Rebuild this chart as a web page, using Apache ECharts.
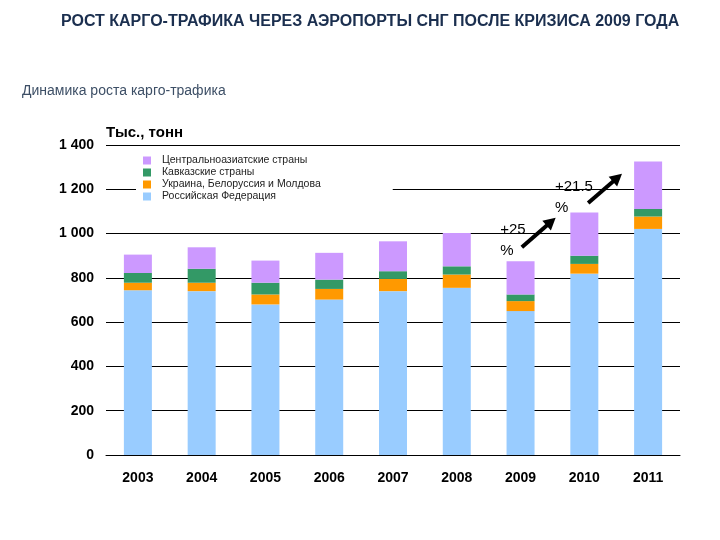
<!DOCTYPE html>
<html><head><meta charset="utf-8">
<script src="https://cdn.jsdelivr.net/npm/echarts@6/dist/echarts.min.js"></script>
<style>html,body{margin:0;padding:0;background:#fff}#c{width:720px;height:540px}</style>
</head><body><div id="c"></div>
<script>
const categories = ['2003','2004','2005','2006','2007','2008','2009','2010','2011'];
const seriesNames = ['Центральноазиатские страны','Кавказские страны','Украина, Белоруссия и Молдова','Российская Федерация'];
const russia = [744,740,680,702,740,755,650,819,1021];
const ukraine = [34,38,45,48,55,60,45,44,56];
const caucasus = [44,63,53,42,35,37,30,37,34];
const centralAsia = [83,97,100,121,135,151,150,195,214];
const yTicks = [0,200,400,600,800,1000,1200,1400];
// annotations anchored in data space: [categoryIndex, value]
const growthLabels = ['+25\n%', '+21.5\n%'];
const growthLabelAnchors = [[5.68,1062],[6.54,1258]];
const growthArrows = [[[6.02,938],[6.55,1072]],[[7.06,1138],[7.59,1270]]];

const chart = echarts.init(document.getElementById('c'));
const FONT = 'Liberation Sans';
const colors = {ca:'#cc99ff', cau:'#339966', ukr:'#ff9900', ru:'#99ccff'};
function bar(name, data, color){
  return {name, type:'bar', stack:'t', data, barWidth:28, itemStyle:{color}};
}
chart.setOption({
  animation:false,
  textStyle:{fontFamily:FONT},
  title:[
    {text:'РОСТ КАРГО-ТРАФИКА ЧЕРЕЗ АЭРОПОРТЫ СНГ ПОСЛЕ КРИЗИСА 2009 ГОДА', left:56, top:9,
     textStyle:{fontSize:16, fontWeight:'bold', color:'#1b2f4f', fontFamily:FONT}},
    {text:'Динамика роста карго-трафика', left:17, top:79,
     textStyle:{fontSize:14, fontWeight:'normal', color:'#3d4f66', fontFamily:FONT}},
    {text:'Тыс., тонн', left:101, top:120,
     textStyle:{fontSize:15, fontWeight:'bold', color:'#000', fontFamily:FONT}}
  ],
  legend:{
    data:seriesNames, orient:'vertical', left:136, top:153,
    itemWidth:8, itemHeight:8, itemGap:1, icon:'rect',
    backgroundColor:'#fff', padding:[2,72,6,7], z:10,
    textStyle:{fontSize:10.5, color:'#222', lineHeight:9, height:9, padding:[0,0,0,6], fontFamily:FONT}
  },
  grid:{left:106, right:40, top:145, bottom:85},
  xAxis:{type:'category', data:categories,
    axisLine:{lineStyle:{color:'#000', width:1}}, axisTick:{show:false},
    axisLabel:{fontSize:14, fontWeight:'bold', color:'#000', margin:16, fontFamily:FONT}},
  yAxis:{type:'value', min:0, max:1400, interval:200,
    axisLine:{show:false}, axisTick:{show:false},
    splitLine:{lineStyle:{color:'#000', width:1}},
    axisLabel:{fontSize:14, fontWeight:'bold', color:'#000', margin:12, fontFamily:FONT,
      formatter:v=>yTicks.indexOf(v)>=0 ? String(v).replace(/\B(?=(\d{3})+(?!\d))/g,' ') : ''}},
  series:[
    bar(seriesNames[3], russia, colors.ru),
    bar(seriesNames[2], ukraine, colors.ukr),
    bar(seriesNames[1], caucasus, colors.cau),
    bar(seriesNames[0], centralAsia, colors.ca)
  ]
});

function px(p){
  const x0 = chart.convertToPixel({xAxisIndex:0}, 0);
  const x1 = chart.convertToPixel({xAxisIndex:0}, 1);
  const y = chart.convertToPixel({yAxisIndex:0}, p[1]);
  return [x0 + (x1-x0)*p[0], y];
}
const g = [];
growthLabels.forEach((t,i)=>{
  const p = px(growthLabelAnchors[i]);
  g.push({type:'text', x:p[0], y:p[1], z:20,
    style:{text:t, fontSize:15, lineHeight:21, fill:'#000', fontFamily:FONT}});
});
growthArrows.forEach(a=>{
  const s = px(a[0]), e = px(a[1]);
  const dx = e[0]-s[0], dy = e[1]-s[1], L = Math.hypot(dx,dy);
  const ux = dx/L, uy = dy/L, hl = 12, hw = 6.5;
  const bx = e[0]-ux*hl, by = e[1]-uy*hl;
  g.push({type:'line', z:20, shape:{x1:s[0], y1:s[1], x2:bx+ux*1, y2:by+uy*1},
    style:{stroke:'#000', lineWidth:4}});
  g.push({type:'polygon', z:20, shape:{points:[[e[0],e[1]],[bx-uy*hw, by+ux*hw],[bx+uy*hw, by-ux*hw]]},
    style:{fill:'#000'}});
});
chart.setOption({graphic:g});
</script></body></html>
